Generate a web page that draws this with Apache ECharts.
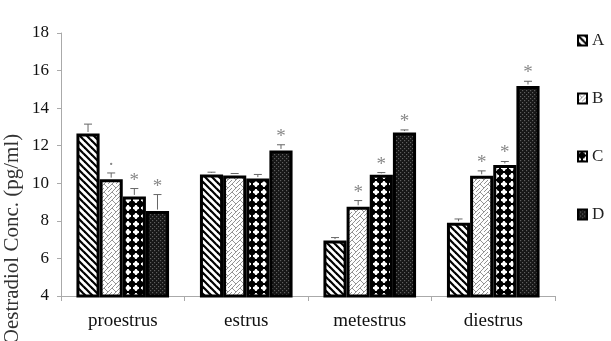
<!DOCTYPE html>
<html>
<head>
<meta charset="utf-8">
<script src="https://cdn.jsdelivr.net/npm/echarts@6/dist/echarts.min.js"></script>
<style>html,body{margin:0;padding:0;background:#fff}#c{width:611px;height:341px}</style>
</head>
<body>
<div id="c"></div>
<script>
const categories = ['proestrus', 'estrus', 'metestrus', 'diestrus'];
const seriesNames = ['A', 'B', 'C', 'D'];
const valuesA = [12.65, 10.47, 6.95, 7.9];
const valuesB = [10.22, 10.42, 8.75, 10.4];
const valuesC = [9.3, 10.25, 10.45, 10.98];
const valuesD = [8.52, 11.75, 12.7, 15.18];
const errA = [0.5, 0.12, 0.16, 0.2];
const errB = [0.33, 0.1, 0.33, 0.26];
const errC = [0.42, 0.22, 0.12, 0.18];
const errD = [0.88, 0.3, 0.14, 0.25];
const marksA = ['', '', '', ''];
const marksB = ['·', '', '*', '*'];
const marksC = ['*', '', '*', '*'];
const marksD = ['*', '*', '*', '*'];
const yTicks = [4, 6, 8, 10, 12, 14, 16, 18];

const values = [valuesA, valuesB, valuesC, valuesD];
const errs = [errA, errB, errC, errD];
const marks = [marksA, marksB, marksC, marksD];

function tile(w, h, draw) {
  const c = document.createElement('canvas');
  c.width = w; c.height = h;
  const g = c.getContext('2d');
  draw(g, w, h);
  return c;
}
const patA = tile(7, 7, (g, w, h) => {
  g.fillStyle = '#fff'; g.fillRect(0, 0, w, h);
  g.strokeStyle = '#000'; g.lineWidth = 2.2;
  for (let k = -1; k <= 1; k++) {
    g.beginPath(); g.moveTo(k * w - 1, -1); g.lineTo(k * w + w + 1, h + 1); g.stroke();
  }
});
const patB = tile(8, 8, (g, w, h) => {
  g.fillStyle = '#fff'; g.fillRect(0, 0, w, h);
  g.strokeStyle = '#888'; g.lineWidth = 0.9;
  for (let k = -1; k <= 1; k++) {
    g.beginPath(); g.moveTo(k * w - 1, h + 1); g.lineTo(k * w + w + 1, -1); g.stroke();
  }
  g.beginPath(); g.moveTo(0, 0); g.lineTo(4, 4); g.stroke();
  g.beginPath(); g.moveTo(4, 8); g.lineTo(8, 4); g.stroke();
});
const patC = tile(8, 8, (g, w, h) => {
  g.fillStyle = '#fff'; g.fillRect(0, 0, w, h);
  g.fillStyle = '#000';
  g.beginPath(); g.arc(4, 4, 3.3, 0, Math.PI * 2); g.fill();
  g.fillRect(3, 0, 2, 8); g.fillRect(0, 3, 8, 2);
});
const patD = tile(4, 4, (g, w, h) => {
  g.fillStyle = '#161616'; g.fillRect(0, 0, w, h);
  g.fillStyle = '#5e5e5e';
  g.fillRect(0, 0, 1.2, 1.2); g.fillRect(2, 2, 1.2, 1.2);
});
const pats = [patA, patB, patC, patD];

const barSeries = seriesNames.map((n, i) => ({
  name: n,
  type: 'bar',
  data: values[i],
  barGap: '0%',
  barCategoryGap: '25%',
  itemStyle: { color: { image: pats[i], repeat: 'repeat' }, borderColor: '#000', borderWidth: 3 },
  emphasis: { disabled: true },
  silent: true,
  z: 2
}));

const errData = [];
for (let i = 0; i < 4; i++) {
  for (let j = 0; j < categories.length; j++) {
    errData.push([j, values[i][j], values[i][j] + errs[i][j], i, marks[i][j]]);
  }
}

const errSeries = {
  type: 'custom',
  name: 'err',
  data: errData,
  silent: true,
  z: 5,
  renderItem: function (params, api) {
    const cat = api.value(0);
    const idx = api.value(3);
    const top = api.coord([cat, api.value(2)]);
    const base = api.coord([cat, api.value(1)]);
    const w = api.size([1, 0])[0];
    const bw = w * 0.75 / 4;
    const x = top[0] - w * 0.375 + (idx + 0.5) * bw;
    const mark = errData[params.dataIndex][4];
    const children = [
      { type: 'line', shape: { x1: x, y1: base[1] - 1.5, x2: x, y2: top[1] }, style: { stroke: '#666', lineWidth: 1 } },
      { type: 'line', shape: { x1: x - 4, y1: top[1], x2: x + 4, y2: top[1] }, style: { stroke: '#666', lineWidth: 1 } }
    ];
    if (mark) {
      children.push({ type: 'text', x: x, y: top[1] - 8, style: { text: mark, fill: '#888', font: '19px "Liberation Serif"', textAlign: 'center', textVerticalAlign: 'middle' } });
    }
    return { type: 'group', children: children };
  }
};

const chart = echarts.init(document.getElementById('c'), null, { renderer: 'canvas' });
chart.setOption({
  animation: false,
  backgroundColor: '#fff',
  grid: { left: 61, right: 56, top: 33, bottom: 45 },
  legend: {
    data: seriesNames.map((n, i) => ({ name: n, itemStyle: { color: { image: pats[i], repeat: 'repeat' }, borderColor: '#000', borderWidth: 2 } })),
    orient: 'vertical',
    left: 572,
    top: 27,
    itemWidth: 9,
    itemHeight: 10,
    itemGap: 41,
    icon: 'rect',
    selectedMode: false,
    textStyle: { fontFamily: 'Liberation Serif', fontSize: 17, color: '#222', padding: [0, 0, 0, 0], lineHeight: 17 }
  },
  xAxis: {
    type: 'category',
    data: categories,
    axisLine: { lineStyle: { color: '#aaa', width: 1 } },
    axisTick: { show: true, alignWithLabel: false, length: 5, lineStyle: { color: '#aaa' } },
    axisLabel: { fontFamily: 'Liberation Serif', fontSize: 19, color: '#111', margin: 16 },
    splitLine: { show: false }
  },
  yAxis: {
    type: 'value',
    min: 4,
    max: 18,
    interval: 2,
    axisLine: { show: true, lineStyle: { color: '#aaa', width: 1 } },
    axisTick: { show: true, length: 4, lineStyle: { color: '#aaa' } },
    axisLabel: { fontFamily: 'Liberation Serif', fontSize: 17, color: '#111', margin: 12, formatter: v => yTicks.includes(v) ? String(v) : '' },
    splitLine: { show: false }
  },
  graphic: [{
    type: 'text',
    x: 12,
    y: 239,
    rotation: Math.PI / 2,
    style: { text: 'Oestradiol Conc. (pg/ml)', font: '21px "Liberation Serif"', fill: '#333', textAlign: 'center', textVerticalAlign: 'middle' }
  }],
  series: barSeries.concat([errSeries])
});
</script>
</body>
</html>
